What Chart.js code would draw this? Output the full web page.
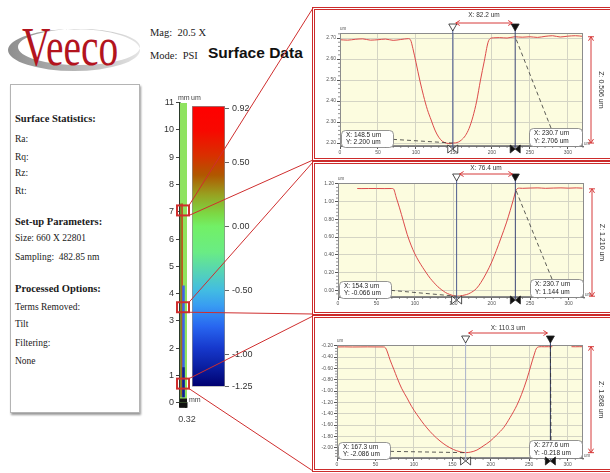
<!DOCTYPE html>
<html>
<head>
<meta charset="utf-8">
<script src="https://cdn.jsdelivr.net/npm/chart.js@4.4.1/dist/chart.umd.min.js"></script>
<style>
  html, body { margin: 0; padding: 0; background: #fff; }
  #page { position: relative; width: 610px; height: 473px; overflow: hidden; font-family: 'Liberation Serif', 'Times New Roman', serif; color: #1a1a1a; }
  .abs { position: absolute; }
  canvas { position: absolute; z-index: 1; }
  #info { left: 10px; top: 84px; width: 130px; height: 329px; box-sizing: border-box; border: 1px solid #b4b4b4; box-shadow: 1px 2px 2px #9a9a9a; background: #fff; }
  #info div { position: absolute; left: 4px; font-size: 9.5px; line-height: 12px; white-space: nowrap; }
  #info div.h { font-weight: bold; font-size: 10.5px; }
  .panel { position: absolute; left: 312px; width: 310px; box-sizing: border-box; border: 3px double #cc2b2b; border-right: none; background: #fff; z-index: 0; }
  #links { z-index: 3; }
</style>
</head>
<body>
<div id="page">
  <svg class="abs" style="left:0;top:0" width="150" height="80">
    <defs>
      <linearGradient id="sw" x1="0" x2="1" y1="0" y2="0">
        <stop offset="0" stop-color="#8e8e8e"/>
        <stop offset="0.6" stop-color="#bdbdbd"/>
        <stop offset="1" stop-color="#e4e4e4"/>
      </linearGradient>
    </defs>
    <path fill="url(#sw)" fill-rule="evenodd"
      d="M8,50 a66,21 0 1,0 132,0 a66,21 0 1,0 -132,0 Z M18,47 a61,18 0 1,0 122,0 a61,18 0 1,0 -122,0 Z"/>
    <text transform="translate(22,65) scale(0.73,1)" font-family="'Liberation Serif', serif" font-size="54" fill="#b3141e">Veeco</text>
  </svg>
  <div class="abs" style="left:150px;top:27px;font-size:10.5px;white-space:pre">Mag:  20.5 X</div>
  <div class="abs" style="left:150px;top:50px;font-size:10.5px;white-space:pre">Mode:  PSI</div>
  <div class="abs" style="left:208px;top:44px;font-family:'Liberation Sans',Arial,sans-serif;font-weight:bold;font-size:15.5px;color:#111">Surface Data</div>

  <div id="info" class="abs">
    <div class="h" style="top:28px">Surface Statistics:</div>
    <div style="top:48px">Ra:</div>
    <div style="top:66px">Rq:</div>
    <div style="top:82px">Rz:</div>
    <div style="top:100px">Rt:</div>
    <div class="h" style="top:131px">Set-up Parameters:</div>
    <div style="top:147px">Size: 660 X 22801</div>
    <div style="top:166px;white-space:pre">Sampling:  482.85 nm</div>
    <div class="h" style="top:198px">Processed Options:</div>
    <div style="top:216px">Terms Removed:</div>
    <div style="top:233px">Tilt</div>
    <div style="top:252px">Filtering:</div>
    <div style="top:270px">None</div>
  </div>

  <div class="panel" style="top:7px;height:154px"></div>
  <div class="panel" style="top:161px;height:154px"></div>
  <div class="panel" style="top:315px;height:157px"></div>

  <canvas id="strip" width="56" height="340" style="left:148px;top:92px"></canvas>
  <canvas id="cbar" width="67" height="300" style="left:186px;top:95px"></canvas>
  <canvas id="prof1" width="294" height="147" style="left:316px;top:11px"></canvas>
  <canvas id="prof2" width="294" height="146" style="left:316px;top:165px"></canvas>
  <canvas id="prof3" width="294" height="149" style="left:316px;top:319px"></canvas>
  <canvas id="links" width="610" height="473" style="left:0;top:0"></canvas>
</div>

<script>
// ---- profile data (um) ----
const xTicks = [0, 50, 100, 150, 200, 250, 300];

const p1X = [0, 10, 20, 30, 40, 50, 60, 70, 80, 90, 93, 96, 100, 105, 110, 115, 120, 125, 130, 135, 140, 145, 148.5, 152, 156, 160, 165, 170, 175, 180, 185, 190, 195, 198, 202, 210, 220, 230, 240, 250, 260, 270, 280, 290, 300, 310, 320];
const p1Y = [2.692, 2.690, 2.694, 2.696, 2.690, 2.692, 2.695, 2.689, 2.693, 2.697, 2.690, 2.650, 2.585, 2.500, 2.425, 2.360, 2.310, 2.262, 2.228, 2.208, 2.200, 2.197, 2.200, 2.201, 2.205, 2.215, 2.235, 2.270, 2.325, 2.400, 2.500, 2.590, 2.680, 2.698, 2.701, 2.702, 2.700, 2.706, 2.704, 2.706, 2.703, 2.708, 2.711, 2.705, 2.709, 2.711, 2.708];
const p1YTicks = [2.20, 2.30, 2.40, 2.50, 2.60, 2.70];
const p1Cursor = [148.5, 230.7];
const p1CursorY = [2.200, 2.706];

const p2X = [25, 30, 40, 50, 60, 70, 72, 76, 80, 85, 90, 95, 100, 105, 110, 115, 120, 125, 130, 135, 140, 145, 150, 154.3, 158, 162, 167, 172, 180, 186, 193, 200, 206, 212, 219, 224, 228, 232, 236, 240, 250, 260, 270, 280, 290, 300, 310, 318];
const p2Y = [1.148, 1.147, 1.148, 1.148, 1.147, 1.148, 1.145, 1.040, 0.930, 0.780, 0.630, 0.510, 0.410, 0.330, 0.260, 0.195, 0.135, 0.085, 0.040, 0.005, -0.025, -0.045, -0.060, -0.066, -0.064, -0.058, -0.048, -0.030, 0.020, 0.090, 0.195, 0.320, 0.450, 0.590, 0.760, 0.900, 1.020, 1.135, 1.152, 1.150, 1.153, 1.155, 1.150, 1.153, 1.155, 1.152, 1.155, 1.152];
const p2YTicks = [0.00, 0.20, 0.40, 0.60, 0.80, 1.00, 1.20];
const p2Cursor = [154.3, 230.7];
const p2CursorY = [-0.066, 1.144];

const p3X = [0, 10, 20, 30, 40, 50, 60, 62, 64, 66, 69, 74, 78, 84, 91, 97, 104, 110, 117, 125, 134, 142, 151.5, 160, 167.3, 174, 182, 190, 199.5, 208, 217, 225, 234, 240, 247, 252, 256, 259, 262, 266, 270, 275, 280, 292, 305, 310, 315, 320];
const p3Y = [-0.222, -0.221, -0.223, -0.222, -0.221, -0.222, -0.222, -0.225, -0.260, -0.330, -0.450, -0.620, -0.760, -0.950, -1.120, -1.270, -1.415, -1.530, -1.650, -1.770, -1.880, -1.960, -2.030, -2.070, -2.086, -2.075, -2.040, -1.970, -1.880, -1.770, -1.640, -1.470, -1.250, -1.060, -0.790, -0.560, -0.380, -0.260, -0.222, -0.218, -0.219, -0.218, -0.218, null, -0.218, -0.219, -0.218, -0.218];
const p3YTicks = [-2.00, -1.80, -1.60, -1.40, -1.20, -1.00, -0.80, -0.60, -0.40, -0.20];
const p3Cursor = [167.3, 277.6];
const p3CursorY = [-2.086, -0.218];

// ---- sample strip (mm) ----
const stripYTicks = [0, 1, 2, 3, 4, 5, 6, 7, 8, 9, 10, 11];
const stripXTicks = [0, 0.04, 0.08, 0.12, 0.16, 0.20, 0.24, 0.28, 0.32];
const stripWidth = 0.32;
const stripLength = 11;
const stripBase = 0.15;
const stripTraceX = [0.05, 0.10, 0.16, 0.16];
const stripTraceTop = [7.3, 7.3, 4.3, 1.3];
const stripTraceBottom = [0.2, 0.3, 0.2, 0.2];
const boxMm = [7.05, 3.5, 0.7];

// ---- colour scale (um) ----
const cbTicks = [0.92, 0.50, 0.00, -0.50, -1.00, -1.25];
const cbRange = [-1.25, 0.94];
const cbStops = [0.94, 0.75, 0.55, 0.40, 0.25, 0.10, 0.00, -0.20, -0.35, -0.50, -0.62, -0.78, -0.95, -1.10, -1.25];
const cbColors = ['#ff0000', '#f80800', '#d83000', '#b05800', '#98a020', '#7cd844', '#72f066', '#6aec84', '#56d4b4', '#42bce2', '#389cf2', '#2866f0', '#1638cc', '#0a1ea0', '#000070'];

Chart.defaults.font.family = "'Liberation Sans', Arial, sans-serif";
const SANS = "'Liberation Sans', Arial, sans-serif";

function tri(ctx, pts, fill, stroke) {
  ctx.beginPath();
  ctx.moveTo(pts[0], pts[1]);
  ctx.lineTo(pts[2], pts[3]);
  ctx.lineTo(pts[4], pts[5]);
  ctx.closePath();
  ctx.fillStyle = fill;
  ctx.fill();
  ctx.strokeStyle = stroke;
  ctx.lineWidth = 0.8;
  ctx.stroke();
}

function profileDecor(o) {
  return {
    id: 'profileDecor',
    beforeDraw(chart) {
      const { ctx, chartArea: a } = chart;
      ctx.save();
      ctx.fillStyle = '#fcfcdf';
      ctx.fillRect(a.left, a.top, a.right - a.left, a.bottom - a.top);
      ctx.restore();
    },
    afterDraw(chart) {
      const { ctx, chartArea: a } = chart;
      const xs = chart.scales.x, ys = chart.scales.y;
      ctx.save();
      ctx.strokeStyle = '#8c8c8c';
      ctx.lineWidth = 1;
      ctx.strokeRect(a.left + 0.5, a.top + 0.5, a.right - a.left - 1, a.bottom - a.top - 1);

      // minor ticks
      ctx.strokeStyle = '#666';
      ctx.lineWidth = 0.7;
      ctx.beginPath();
      for (let v = 10; v <= 320; v += 10) {
        if (v % 50 === 0) continue;
        const px = xs.getPixelForValue(v);
        ctx.moveTo(px, a.bottom);
        ctx.lineTo(px, a.bottom + 2);
      }
      for (let k = Math.ceil(o.yMin / o.yMinor); k * o.yMinor <= o.yMax; k++) {
        const v = k * o.yMinor;
        if (o.yTicks.some(t => Math.abs(t - v) < 1e-6)) continue;
        const py = ys.getPixelForValue(v);
        ctx.moveTo(a.left - 2, py);
        ctx.lineTo(a.left, py);
      }
      ctx.stroke();

      // unit labels
      ctx.fillStyle = '#555';
      ctx.font = '4.5px ' + SANS;
      ctx.textBaseline = 'alphabetic';
      ctx.textAlign = 'left';
      ctx.fillText('um', a.left, a.top - 3);
      ctx.fillText('um', a.right + 1, a.bottom - 1);

      const cx = o.cursor.map(v => xs.getPixelForValue(v));
      const cy = o.cursorY.map(v => ys.getPixelForValue(v));

      // cursor lines
      cx.forEach((x, i) => {
        ctx.strokeStyle = o.cursorColor[i];
        ctx.lineWidth = 1;
        ctx.beginPath();
        ctx.moveTo(x, a.top - 4);
        ctx.lineTo(x, a.bottom + 2);
        ctx.stroke();
      });

      // leader lines
      const lb = { x: a.left + 1, y: a.bottom - 16, w: 52, h: 17 };
      const rb = { x: a.right - 54, y: a.bottom - 18, w: 53, h: 18 };
      ctx.strokeStyle = '#333';
      ctx.lineWidth = 0.8;
      ctx.setLineDash([4, 3]);
      ctx.beginPath();
      ctx.moveTo(lb.x + lb.w, lb.y + lb.h * 0.55);
      ctx.lineTo(cx[0], cy[0]);
      ctx.moveTo(rb.x + 22, rb.y);
      ctx.lineTo(cx[1], cy[1]);
      ctx.stroke();
      ctx.setLineDash([]);

      // callouts
      [[lb, 0], [rb, 1]].forEach(([b, i]) => {
        ctx.beginPath();
        ctx.roundRect(b.x + 0.5, b.y + 0.5, b.w, b.h, 4);
        ctx.fillStyle = '#fff';
        ctx.fill();
        ctx.strokeStyle = '#7a7a7a';
        ctx.lineWidth = 0.8;
        ctx.stroke();
        ctx.fillStyle = '#222';
        ctx.font = '6.5px ' + SANS;
        ctx.textAlign = 'left';
        ctx.textBaseline = 'middle';
        ctx.fillText('X: ' + o.cursor[i].toFixed(1) + ' um', b.x + 5, b.y + b.h * 0.3);
        ctx.fillText('Y: ' + o.cursorY[i].toFixed(3) + ' um', b.x + 5, b.y + b.h * 0.72);
      });

      // top and bottom cursor markers
      cx.forEach((x, i) => {
        const fill = i === 0 ? '#fff' : '#111';
        tri(ctx, [x - 4, a.top - 9, x + 4, a.top - 9, x, a.top - 2], fill, '#222');
        const by = a.bottom + 3;
        tri(ctx, [x - 5, by - 4, x - 5, by + 4, x, by], fill, '#222');
        tri(ctx, [x + 5, by - 4, x + 5, by + 4, x, by], fill, '#222');
      });

      // delta-x arrow
      const ay = a.top - o.arrowUp;
      ctx.strokeStyle = '#d63a3a';
      ctx.lineWidth = 1;
      ctx.beginPath();
      ctx.moveTo(cx[0] + 3, ay);
      ctx.lineTo(cx[1] - 3, ay);
      ctx.moveTo(cx[0] + 7, ay - 2.5); ctx.lineTo(cx[0] + 3, ay); ctx.lineTo(cx[0] + 7, ay + 2.5);
      ctx.moveTo(cx[1] - 7, ay - 2.5); ctx.lineTo(cx[1] - 3, ay); ctx.lineTo(cx[1] - 7, ay + 2.5);
      ctx.stroke();
      ctx.fillStyle = '#333';
      ctx.font = '6.5px ' + SANS;
      ctx.textAlign = 'center';
      ctx.textBaseline = 'middle';
      ctx.fillText('X: ' + (o.cursor[1] - o.cursor[0]).toFixed(1) + ' um', (cx[0] + cx[1]) / 2, a.top - o.labelUp);

      // Z arrow
      const zx = a.right + 8;
      const zt = Math.min(cy[0], cy[1]), zb = Math.max(cy[0], cy[1]);
      ctx.strokeStyle = '#d63a3a';
      ctx.beginPath();
      ctx.moveTo(zx, zt); ctx.lineTo(zx, zb);
      ctx.moveTo(zx - 3, zt); ctx.lineTo(zx + 3, zt);
      ctx.moveTo(zx - 3, zb); ctx.lineTo(zx + 3, zb);
      ctx.moveTo(zx - 2.5, zt + 4); ctx.lineTo(zx, zt); ctx.lineTo(zx + 2.5, zt + 4);
      ctx.moveTo(zx - 2.5, zb - 4); ctx.lineTo(zx, zb); ctx.lineTo(zx + 2.5, zb - 4);
      ctx.stroke();
      ctx.save();
      ctx.translate(a.right + 18, (zt + zb) / 2);
      ctx.rotate(Math.PI / 2);
      ctx.fillStyle = '#333';
      ctx.font = '7px ' + SANS;
      ctx.textAlign = 'center';
      ctx.textBaseline = 'middle';
      ctx.fillText('Z: ' + Math.abs(o.cursorY[1] - o.cursorY[0]).toFixed(3) + ' um', 0, 0);
      ctx.restore();
      ctx.restore();
    }
  };
}

function makeProfile(id, o) {
  const pts = o.xs.map((x, i) => ({ x: x, y: o.ys[i] }));
  return new Chart(document.getElementById(id), {
    type: 'line',
    data: { datasets: [{ data: pts, borderColor: '#dc4a4a', borderWidth: 1, pointRadius: 0, cubicInterpolationMode: 'monotone', spanGaps: false }] },
    options: {
      responsive: false,
      animation: false,
      events: [],
      layout: { padding: { top: o.padTop, right: o.padRight, left: 0, bottom: 0 } },
      plugins: { legend: { display: false }, tooltip: { enabled: false } },
      scales: {
        x: {
          type: 'linear', min: 0, max: 320,
          afterBuildTicks: s => { s.ticks = xTicks.map(v => ({ value: v })); },
          afterFit: s => { s.height = o.xAxisH; s.paddingLeft = 0; s.paddingRight = 0; },
          ticks: { font: { size: 5 }, color: '#555', padding: 1, maxRotation: 0, autoSkip: false },
          grid: { color: '#d4d4c4', tickColor: '#555', tickLength: 3 },
          border: { color: '#777' }
        },
        y: {
          type: 'linear', min: o.yMin, max: o.yMax,
          afterBuildTicks: s => { s.ticks = o.yTicks.map(v => ({ value: v })); },
          afterFit: s => { s.width = o.yAxisW; s.paddingTop = 0; s.paddingBottom = 0; },
          ticks: { font: { size: 5 }, color: '#555', padding: 1, autoSkip: false, callback: v => v.toFixed(2) },
          grid: { color: '#d4d4c4', tickColor: '#555', tickLength: 3 },
          border: { color: '#777' }
        }
      }
    },
    plugins: [profileDecor(o)]
  });
}

makeProfile('prof1', {
  xs: p1X, ys: p1Y, yTicks: p1YTicks, yMin: 2.186, yMax: 2.724, yMinor: 0.02,
  cursor: p1Cursor, cursorY: p1CursorY, cursorColor: ['#4d5b8e', '#3c4676'],
  padTop: 22, padRight: 27, yAxisW: 24, xAxisH: 12, arrowUp: 10, labelUp: 18
});
makeProfile('prof2', {
  xs: p2X, ys: p2Y, yTicks: p2YTicks, yMin: -0.075, yMax: 1.21, yMinor: 0.04,
  cursor: p2Cursor, cursorY: p2CursorY, cursorColor: ['#4d5b8e', '#3c4676'],
  padTop: 18, padRight: 26, yAxisW: 22, xAxisH: 14, arrowUp: 9, labelUp: 15
});
makeProfile('prof3', {
  xs: p3X, ys: p3Y, yTicks: p3YTicks, yMin: -2.18, yMax: -0.188, yMinor: 0.05,
  cursor: p3Cursor, cursorY: p3CursorY, cursorColor: ['#a9b1c9', '#2c3460'],
  padTop: 26, padRight: 27, yAxisW: 21, xAxisH: 10, arrowUp: 12, labelUp: 17
});

// ---- strip ----
const traceStyle = [['#76922c', 3], ['#d2401c', 1.2], ['#3a66e8', 2.5], ['#10208a', 2.5]];
const stripSets = [
  { data: [{ x: 0, y: stripLength }, { x: stripWidth, y: stripLength }], fill: 'origin', backgroundColor: '#8fe35f', borderWidth: 0, pointRadius: 0, order: 10 }
];
stripTraceX.forEach((x, i) => {
  stripSets.push({ data: [{ x: x, y: stripTraceBottom[i] }, { x: x, y: stripTraceTop[i] }], borderColor: traceStyle[i][0], borderWidth: traceStyle[i][1], pointRadius: 0, fill: false, order: 4 - i });
});
stripSets.push({ data: [{ x: 0, y: stripBase }, { x: stripWidth, y: stripBase }], fill: 'origin', backgroundColor: '#141414', borderWidth: 0, pointRadius: 0, order: 0 });

const stripChart = new Chart(document.getElementById('strip'), {
  type: 'line',
  data: { datasets: stripSets },
  options: {
    responsive: false, animation: false, events: [],
    layout: { padding: { top: 10.7, right: 17, left: 0, bottom: 0 } },
    plugins: { legend: { display: false }, tooltip: { enabled: false } },
    scales: {
      x: {
        type: 'linear', min: 0, max: stripWidth,
        afterBuildTicks: s => { s.ticks = stripXTicks.map(v => ({ value: v })); },
        afterFit: s => { s.height = 29.3; s.paddingLeft = 0; s.paddingRight = 0; },
        ticks: { font: { size: 9 }, color: '#444', padding: 6, maxRotation: 0, autoSkip: false, callback: v => (v === stripWidth ? v.toFixed(2) : '') },
        grid: { drawOnChartArea: false, tickColor: '#111', tickLength: 5, lineWidth: 1.5 },
        border: { color: '#222' }
      },
      y: {
        type: 'linear', min: 0, max: stripLength,
        afterBuildTicks: s => { s.ticks = stripYTicks.map(v => ({ value: v })); },
        afterFit: s => { s.width = 32; s.paddingTop = 0; s.paddingBottom = 0; },
        ticks: { font: { size: 9 }, color: '#333', padding: 2, autoSkip: false },
        grid: { drawOnChartArea: false, tickColor: '#444', tickLength: 4 },
        border: { color: '#2a3a2a', width: 1.5 }
      }
    }
  },
  plugins: [{
    id: 'stripUnits',
    afterDraw(chart) {
      const { ctx, chartArea: a } = chart;
      ctx.save();
      ctx.fillStyle = '#444';
      ctx.font = '7px ' + SANS;
      ctx.textAlign = 'left';
      ctx.textBaseline = 'alphabetic';
      ctx.fillText('mm', a.left - 2, a.top - 3);
      ctx.fillText('mm', a.right + 2, a.bottom - 1);
      ctx.restore();
    }
  }]
});

// ---- colour bar ----
function cbGradient(context) {
  const chart = context.chart;
  const a = chart.chartArea;
  if (!a) return '#70f066';
  const ys = chart.scales.y;
  const top = ys.getPixelForValue(cbRange[1]), bot = ys.getPixelForValue(cbRange[0]);
  const g = chart.ctx.createLinearGradient(0, top, 0, bot);
  cbStops.forEach((v, i) => {
    const t = (ys.getPixelForValue(v) - top) / (bot - top);
    g.addColorStop(Math.min(1, Math.max(0, t)), cbColors[i]);
  });
  return g;
}

new Chart(document.getElementById('cbar'), {
  type: 'bar',
  data: { labels: [''], datasets: [{ data: [cbRange], backgroundColor: cbGradient, borderColor: '#8a8a8a', borderWidth: 1, borderSkipped: false, barPercentage: 1, categoryPercentage: 1 }] },
  options: {
    responsive: false, animation: false, events: [],
    layout: { padding: { top: 11, right: 0, left: 6, bottom: 5 } },
    plugins: { legend: { display: false }, tooltip: { enabled: false } },
    scales: {
      x: { display: false },
      y: {
        position: 'right', min: cbRange[0], max: cbRange[1],
        afterBuildTicks: s => { s.ticks = cbTicks.map(v => ({ value: v })); },
        afterFit: s => { s.width = 28; },
        ticks: { font: { size: 9 }, color: '#333', padding: 3, autoSkip: false, callback: v => v.toFixed(2) },
        grid: { drawOnChartArea: false, tickColor: '#666', tickLength: 4 },
        border: { display: false }
      }
    }
  },
  plugins: [{
    id: 'cbUnit',
    afterDraw(chart) {
      const { ctx, chartArea: a } = chart;
      ctx.save();
      ctx.fillStyle = '#444';
      ctx.font = '7px ' + SANS;
      ctx.textAlign = 'left';
      ctx.fillText('um', a.left - 1, a.top - 6);
      ctx.restore();
    }
  }]
});

// ---- zoom boxes and connector lines ----
const panelTop = [8, 162, 316];
const panelBottom = [160, 314, 471];
const panelLeft = 313;
const lc = document.getElementById('links').getContext('2d');
const sCanvas = document.getElementById('strip');
const offX = sCanvas.offsetLeft, offY = sCanvas.offsetTop;
const sa = stripChart.chartArea, sy = stripChart.scales.y;
lc.strokeStyle = '#cf2e2e';
boxMm.forEach((mm, i) => {
  const yc = offY + sy.getPixelForValue(mm);
  const l = offX + sa.left - 3, r = offX + sa.right + 2;
  lc.lineWidth = 1;
  lc.beginPath();
  lc.moveTo(r, yc - 5); lc.lineTo(panelLeft, panelTop[i]);
  lc.moveTo(r, yc + 5); lc.lineTo(panelLeft, panelBottom[i]);
  lc.stroke();
  lc.lineWidth = 2;
  lc.strokeRect(l, yc - 5, r - l, 10);
});
</script>
</body>
</html>
